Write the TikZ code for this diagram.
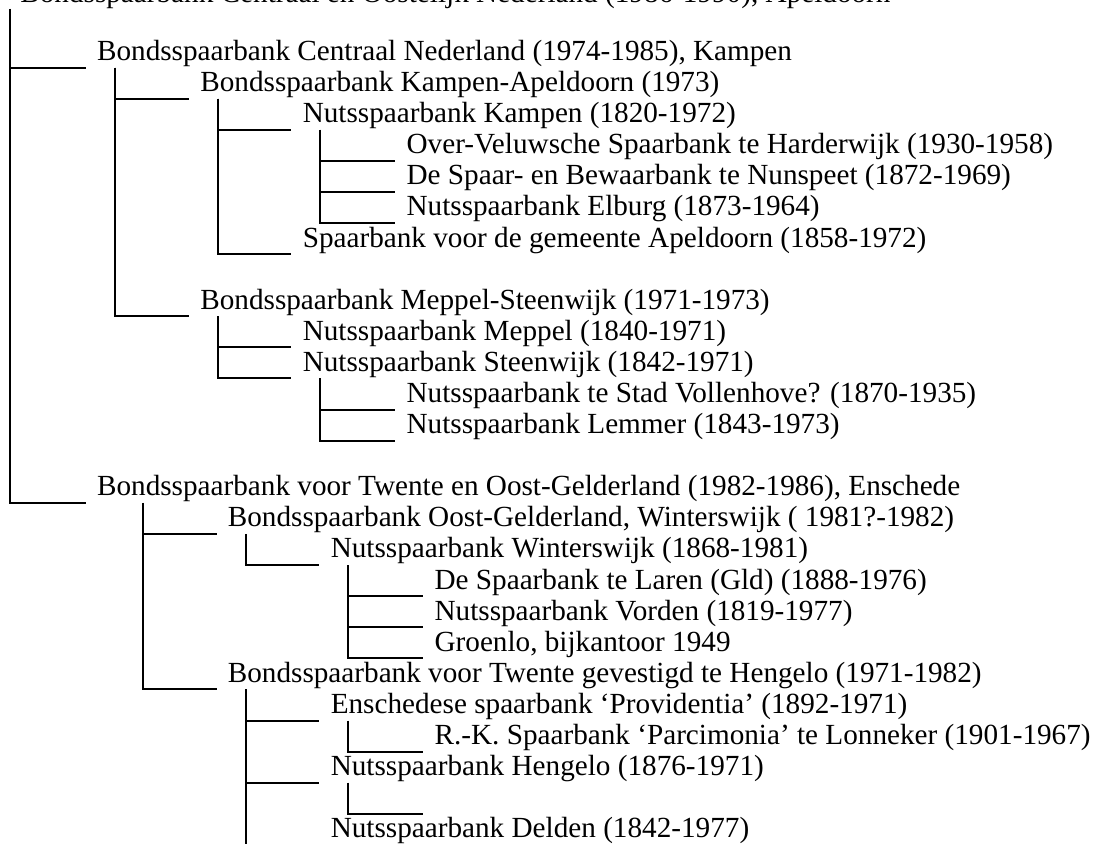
\documentclass[tikz,border=0pt]{standalone}
\usepackage{fontspec}
\setmainfont{Liberation Serif}
\tikzset{
  bank/.style={anchor=base west, inner sep=0pt, font=\fontsize{14.6}{17}\selectfont},
  link/.style={line width=1pt},
}
\begin{document}
\begin{tikzpicture}[x=0.5pt, y=-0.5pt]
  \useasboundingbox (0,0) rectangle (1098,844);
  % top of the tree, cut off by the page
  \node[bank] (root) at (20,3) {Bondsspaarbank Centraal en Oostelijk Nederland (1986-1990), Apeldoorn};
  % Centraal Nederland
  \node[bank] (cn) at (96.7,60.6) {Bondsspaarbank Centraal Nederland (1974-1985), Kampen};
  \node[bank] (ka) at (200,91.7) {Bondsspaarbank Kampen-Apeldoorn (1973)};
  \node[bank] (kampen) at (302.4,122.8) {Nutsspaarbank Kampen (1820-1972)};
  \node[bank] (harderwijk) at (406.2,153.9) {Over-Veluwsche Spaarbank te Harderwijk (1930-1958)};
  \node[bank] (nunspeet) at (406.2,185) {De Spaar- en Bewaarbank te Nunspeet (1872-1969)};
  \node[bank] (elburg) at (406.2,216) {Nutsspaarbank Elburg (1873-1964)};
  \node[bank] (apeldoorn) at (302.4,247.1) {Spaarbank voor de gemeente Apeldoorn (1858-1972)};
  \node[bank] (ms) at (200,309.3) {Bondsspaarbank Meppel-Steenwijk (1971-1973)};
  \node[bank] (meppel) at (302.4,340.4) {Nutsspaarbank Meppel (1840-1971)};
  \node[bank] (steenwijk) at (302.4,371.5) {Nutsspaarbank Steenwijk (1842-1971)};
  \node[bank] (vollenhove) at (406.2,402.6) {Nutsspaarbank te Stad Vollenhove? (1870-1935)};
  \node[bank] (lemmer) at (406.2,433.6) {Nutsspaarbank Lemmer (1843-1973)};
  % Twente en Oost-Gelderland
  \node[bank] (tog) at (96.7,495.9) {Bondsspaarbank voor Twente en Oost-Gelderland (1982-1986), Enschede};
  \node[bank] (og) at (227.5,527) {Bondsspaarbank Oost-Gelderland, Winterswijk ( 1981?-1982)};
  \node[bank] (winterswijk) at (330.4,558) {Nutsspaarbank Winterswijk (1868-1981)};
  \node[bank] (laren) at (434.2,589.1) {De Spaarbank te Laren (Gld) (1888-1976)};
  \node[bank] (vorden) at (434.2,620.2) {Nutsspaarbank Vorden (1819-1977)};
  \node[bank] (groenlo) at (434.2,651.3) {Groenlo, bijkantoor 1949};
  \node[bank] (twente) at (227.5,682.4) {Bondsspaarbank voor Twente gevestigd te Hengelo (1971-1982)};
  \node[bank] (providentia) at (330.4,713.5) {Enschedese spaarbank ‘Providentia’ (1892-1971)};
  \node[bank] (parcimonia) at (434.2,744.6) {R.-K. Spaarbank ‘Parcimonia’ te Lonneker (1901-1967)};
  \node[bank] (hengelo) at (330.4,775.7) {Nutsspaarbank Hengelo (1876-1971)};
  \node[bank] (leeg) at (434.2,806.8) {};
  \node[bank] (delden) at (330.4,837.9) {Nutsspaarbank Delden (1842-1977)};
  % connectors
  \foreach \c in {cn, tog}
    \draw[link] ([shift={(-10,6)}]root.base west) |- ([shift={(-11,7)}]\c.base west);
  \foreach \c in {og, twente}
    \draw[link] ([shift={(46,7)}]tog.base west) |- ([shift={(-11,7)}]\c.base west);
  \foreach \p/\c in {cn/ka, cn/ms, ka/kampen, ka/apeldoorn, kampen/harderwijk, kampen/nunspeet, kampen/elburg,
      ms/meppel, ms/steenwijk, steenwijk/vollenhove, steenwijk/lemmer,
      og/winterswijk, winterswijk/laren, winterswijk/vorden, winterswijk/groenlo,
      twente/providentia, twente/hengelo, twente/delden, providentia/parcimonia, hengelo/leeg}
    \draw[link] ([shift={(18,7)}]\p.base west) |- ([shift={(-11,7)}]\c.base west);
\end{tikzpicture}
\end{document}
